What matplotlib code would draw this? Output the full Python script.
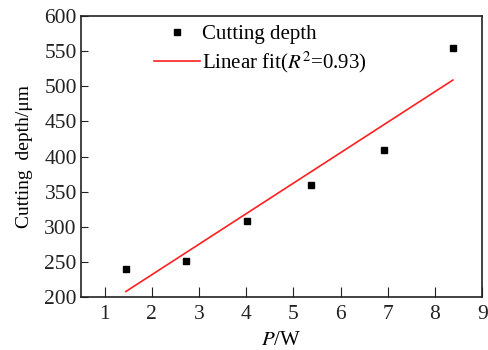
import numpy as np
import matplotlib.pyplot as plt

plt.rcParams['font.family'] = ['Liberation Serif', 'DejaVu Serif']
plt.rcParams['mathtext.fontset'] = 'stix'

power = [1.45, 2.72, 4.02, 5.38, 6.92, 8.38]
depth = [240, 252, 308, 360, 410, 554]

fig = plt.figure(figsize=(4.88, 3.5), dpi=100)
ax = fig.add_axes([0.166, 0.151, 0.822, 0.803])

ax.plot(power, depth, 's', color='black', markersize=5, label='Cutting depth')
z = np.polyfit(power, depth, 1)
p = np.poly1d(z)
xf = np.array([power[0], power[-1]])
ax.plot(xf, p(xf), color='#ff2020', linewidth=1.2, label='Linear fit($R^2$=0.93)')

ax.set_xlim(0.5, 9)
ax.set_ylim(200, 600)
ax.set_xticks(range(1, 10))
ax.set_yticks(range(200, 601, 50))
ax.tick_params(axis='x', direction='in', length=7, width=0.8, labelsize=15.5, pad=6, colors='#222222')
ax.tick_params(axis='y', direction='in', length=5, width=0.8, labelsize=15.5, pad=3, colors='#222222')
for s in ax.spines.values():
    s.set_linewidth(1.2)
    s.set_color('#222222')

ax.set_xlabel('$P$/W', fontsize=15, labelpad=5)
ax.set_ylabel('Cutting  depth/μm', fontsize=14, labelpad=8)

leg = ax.legend(loc='upper left', bbox_to_anchor=(0.16, 1.0), frameon=False,
                fontsize=15, handlelength=2.25, handletextpad=0.1,
                labelspacing=0.25, borderaxespad=0)

fig.savefig('out.png', dpi=100)
